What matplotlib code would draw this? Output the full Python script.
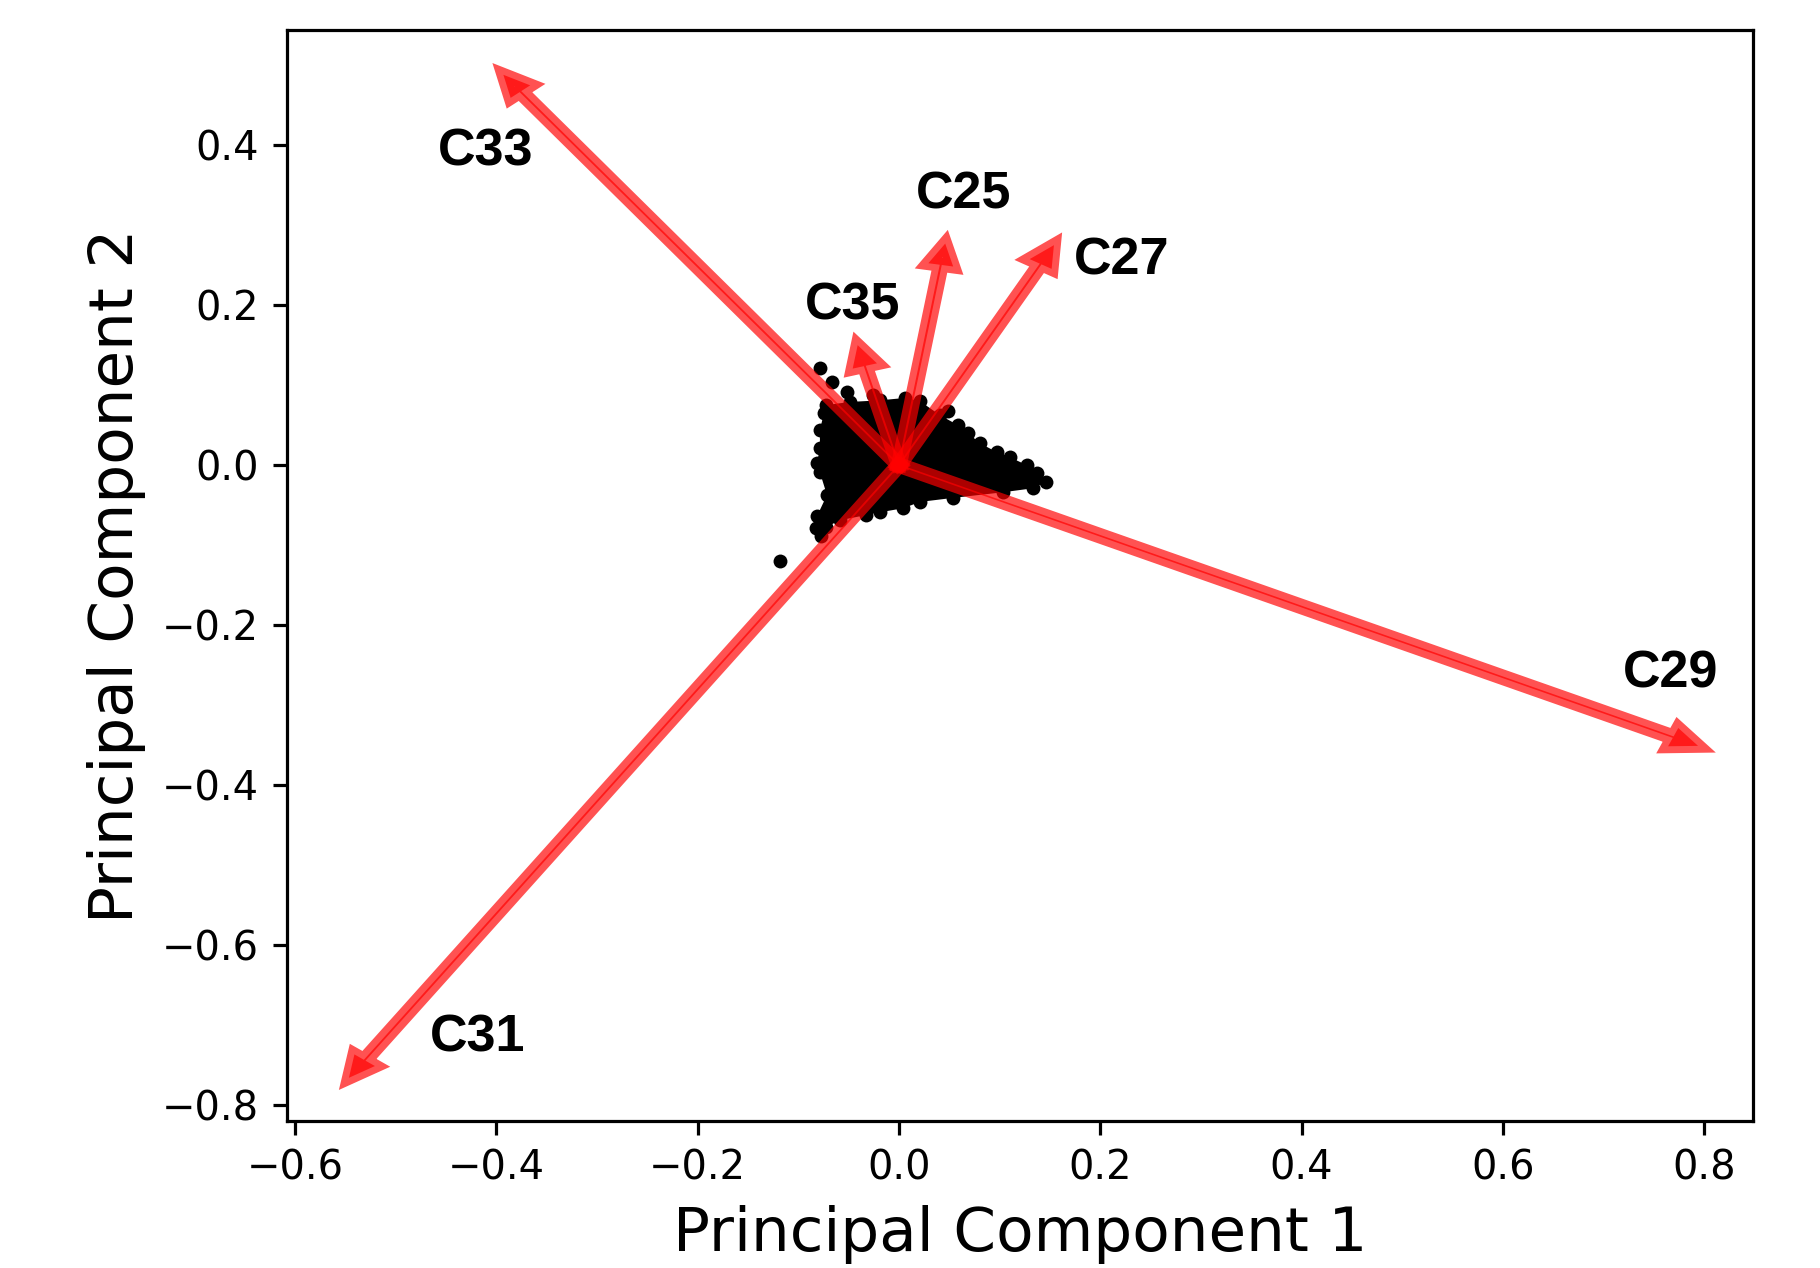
import numpy as np
import matplotlib
matplotlib.use("Agg")
import matplotlib.pyplot as plt

# PCA biplot: loadings (arrow tips) and label positions
names = ["C33", "C25", "C27", "C35", "C29", "C31"]
load_x = [-0.393, 0.046, 0.154, -0.041, 0.794, -0.5465]
load_y = [0.488, 0.277, 0.275, 0.150, -0.351, -0.766]
lab_x = [-0.411, 0.0646, 0.2216, -0.0457, 0.767, -0.419]
lab_y = [0.391, 0.3375, 0.255, 0.199, -0.261, -0.716]

# scores: dense core outline + individually visible points
core_x = [-0.0725, -0.0487, -0.0189, 0.006, 0.0209, 0.0407, 0.0586, 0.0686, 0.0805,
          0.0974, 0.110, 0.127, 0.137, 0.146, 0.133, 0.103, 0.0537, 0.021, 0.004,
          -0.019, -0.033, -0.0586, -0.0725, -0.0775, -0.0825, -0.0815, -0.0715,
          -0.0785, -0.0815, -0.0785, -0.0785, -0.0745]
core_y = [0.075, 0.079, 0.081, 0.084, 0.080, 0.0625, 0.05, 0.04, 0.0275,
          0.016, 0.010, 0.0, -0.010, -0.021, -0.029, -0.034, -0.041, -0.046, -0.054,
          -0.059, -0.0625, -0.069, -0.0775, -0.089, -0.079, -0.064, -0.0375,
          -0.009, 0.0025, 0.021, 0.044, 0.065]
pts_x = [-0.0785, -0.0666, -0.0517, -0.0258, -0.118, 0.0487]
pts_y = [0.121, 0.104, 0.091, 0.0875, -0.1196, 0.0675]

k = 2.88  # size factor (pt at dpi 100)
plt.rcParams["font.family"] = ["DejaVu Sans"]
fig = plt.figure(figsize=(18.2, 12.68), dpi=100)
ax = fig.add_axes([287 / 1820, 1 - 1121 / 1268, (1753 - 287) / 1820, (1121 - 30) / 1268])

ax.fill(core_x, core_y, color="black", lw=0, zorder=2)
ax.scatter(core_x + pts_x, core_y + pts_y, s=100, c="black", lw=0, zorder=2)

for x, y in zip(load_x, load_y):
    ax.arrow(0, 0, x, y, width=0.002, head_width=0.025, head_length=0.027,
             length_includes_head=True, color="red", alpha=0.68, lw=10, zorder=3)
for n, x, y in zip(names, lab_x, lab_y):
    ax.text(x, y, n, ha="center", va="center", fontsize=37.5, fontweight="bold",
            family=["Liberation Sans", "DejaVu Sans"], zorder=4)

ax.set_xlim(-0.608, 0.8486)
ax.set_ylim(-0.82, 0.544)
ax.set_xticks(np.arange(-0.6, 0.81, 0.2))
ax.set_yticks(np.arange(-0.8, 0.41, 0.2))
ax.tick_params(labelsize=10 * k, length=3.5 * k, width=0.8 * k, pad=3.5 * k)
for s in ax.spines.values():
    s.set_linewidth(0.8 * k)
ax.set_xlabel("Principal Component 1", fontsize=15.3 * k, labelpad=4 * k)
ax.set_ylabel("Principal Component 2", fontsize=15.3 * k, labelpad=4 * k)

fig.savefig("out.png", dpi=100)
